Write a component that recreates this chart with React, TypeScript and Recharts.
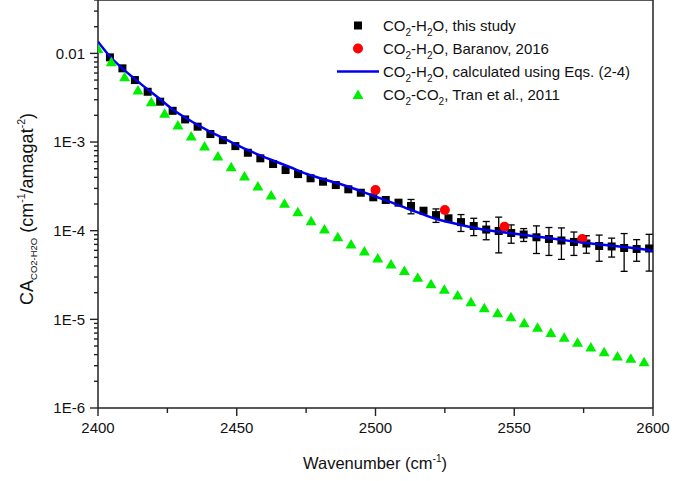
import React from 'react';
import {
  ComposedChart,
  Scatter,
  Line,
  XAxis,
  YAxis,
  ErrorBar,
  ReferenceLine,
  Legend,
  Label,
} from 'recharts';

const FONT = 'Arial, "Liberation Sans", Helvetica, sans-serif';
const AXIS = '#222';
const TEXT = '#111';

// CO2-H2O, this study
const studyWavenumber = [
  2404.3, 2408.8, 2413.3, 2417.9, 2422.4, 2426.9, 2431.4, 2435.9, 2440.5, 2445.0,
  2449.5, 2454.0, 2458.5, 2463.1, 2467.6, 2472.1, 2476.6, 2481.1, 2485.7, 2490.2,
  2494.7, 2499.2, 2503.7, 2508.3, 2512.8, 2517.3, 2521.8, 2526.3, 2530.8, 2535.4,
  2539.9, 2544.4, 2548.9, 2553.4, 2558.0, 2562.5, 2567.0, 2571.5, 2576.0, 2580.6,
  2585.1, 2589.6, 2594.1, 2598.6,
];
const studyCA = [
  0.00902, 0.00678, 0.0050, 0.00369, 0.00285, 0.00225, 0.0018, 0.00149, 0.00123, 0.00105,
  0.00090, 0.000757, 0.000655, 0.000565, 0.000483, 0.000435, 0.00039, 0.000357, 0.000327, 0.000293,
  0.000268, 0.000238, 0.000222, 0.000207, 0.000190, 0.000168, 0.000150, 0.000138, 0.000125, 0.000113,
  0.000103, 0.0000992, 0.0000942, 0.0000906, 0.0000843, 0.0000806, 0.0000775, 0.0000746, 0.0000717, 0.0000672,
  0.0000664, 0.0000638, 0.0000622, 0.0000630,
];
const studyError = [
  0, 0, 0, 0, 0, 0, 0, 0, 0, 0,
  0, 0, 0, 0, 0, 0, 0, 0, 0, 0,
  0, 0, 0, 0, 0.000035, 0.000012, 0.000026, 0.000010, 0.000027, 0.000025,
  0.000024, 0.000043, 0.000022, 0.000015, 0.000029, 0.000028, 0.000030, 0.000022, 0.000016, 0.000022,
  0.000016, 0.000029, 0.000017, 0.000028,
];

// CO2-H2O, Baranov, 2016
const baranovWavenumber = [2500, 2525, 2546.5, 2574.5];
const baranovCA = [0.000288, 0.000171, 0.000111, 0.0000805];

// CO2-H2O, calculated using Eqs. (2-4)
const calcWavenumber = [
  2400, 2404.4, 2409.2, 2415.2, 2421.3, 2427.2, 2433.3, 2439.3, 2445.3, 2451.3,
  2457.3, 2463.3, 2469.3, 2475.3, 2481.3, 2487.3, 2499.2, 2505.0, 2512.9, 2521.9,
  2530.9, 2539.9, 2548.9, 2557.9, 2566.9, 2575.9, 2584.9, 2593.9, 2600,
];
const calcCA = [
  0.01352, 0.00916, 0.0066, 0.00459, 0.003243, 0.002296, 0.001738, 0.001366, 0.001101, 0.000885,
  0.000732, 0.000615, 0.000519, 0.000436, 0.00038, 0.000336, 0.000248, 0.000213, 0.000171, 0.0001355,
  0.000116, 0.0001018, 0.0000935, 0.000086, 0.0000789, 0.0000726, 0.0000678, 0.0000633, 0.000059,
];

// CO2-CO2, Tran et al., 2011
const tranWavenumber = [
  2400, 2404.8, 2409.6, 2414.4, 2419.2, 2424.0, 2428.8, 2433.6, 2438.4, 2443.2,
  2448.0, 2452.8, 2457.6, 2462.4, 2467.2, 2472.0, 2476.8, 2481.6, 2486.4, 2491.2,
  2496.0, 2500.8, 2505.6, 2510.4, 2515.2, 2520.0, 2524.8, 2529.6, 2534.4, 2539.2,
  2544.0, 2548.8, 2553.6, 2558.4, 2563.2, 2568.0, 2572.8, 2577.6, 2582.4, 2587.2,
  2592.0, 2596.8,
];
const tranCA = [
  0.01138, 0.00804, 0.005446, 0.003857, 0.002846, 0.002107, 0.001555, 0.001168, 0.000901, 0.000696,
  0.000527, 0.000414, 0.000319, 0.0002527, 0.0002037, 0.0001638, 0.0001296, 0.0001045, 0.0000856, 0.0000708,
  0.000059, 0.0000492, 0.0000421, 0.0000355, 0.0000299, 0.0000252, 0.0000219, 0.0000188, 0.0000158, 0.00001355,
  0.0000119, 0.00001072, 0.00000918, 0.00000815, 0.0000071, 0.00000628, 0.00000553, 0.00000488, 0.00000432, 0.00000387,
  0.00000364, 0.00000333,
];

// axes
const xTicks = [2400, 2425, 2450, 2475, 2500, 2525, 2550, 2575, 2600];
const xTickLabels = ['2400', '', '2450', '', '2500', '', '2550', '', '2600'];
const yMajorTicks = [1e-6, 1e-5, 1e-4, 1e-3, 1e-2];
const yMajorLabels = ['1E-6', '1E-5', '1E-4', '1E-3', '0.01'];
const yMinorMultipliers = [2, 3, 4, 5, 6, 7, 8, 9];
const yDomain = [1e-6, 0.04];

const studyData = studyWavenumber.map((x, i) => ({ x, y: studyCA[i], e: studyError[i] }));
const baranovData = baranovWavenumber.map((x, i) => ({ x, y: baranovCA[i] }));
const calcData = calcWavenumber.map((x, i) => ({ x, y: calcCA[i] }));
const tranData = tranWavenumber.map((x, i) => ({ x, y: tranCA[i] }));

const yTicks: number[] = [];
yMajorTicks.forEach((d) => {
  yTicks.push(d);
  yMinorMultipliers.forEach((m) => {
    const v = d * m;
    if (v <= yDomain[1] * 1.001) yTicks.push(v);
  });
});
yTicks.sort((a, b) => a - b);

const majorIndex = (v: number) =>
  yMajorTicks.findIndex((t) => Math.abs(Math.log10(t) - Math.log10(v)) < 1e-6);

const YTick = (props: any) => {
  const { x, y, payload } = props;
  const idx = majorIndex(payload.value);
  const major = idx >= 0;
  return (
    <g>
      <line x1={x - (major ? 8 : 4)} x2={x} y1={y} y2={y} stroke={AXIS} strokeWidth={1.4} />
      {major && (
        <text x={x - 13} y={y} dy="0.36em" textAnchor="end" fontSize={15} fontFamily={FONT} fill={TEXT}>
          {yMajorLabels[idx]}
        </text>
      )}
    </g>
  );
};

const XTick = (props: any) => {
  const { x, y, payload } = props;
  const idx = xTicks.indexOf(payload.value);
  const label = idx >= 0 ? xTickLabels[idx] : '';
  const major = label !== '';
  return (
    <g>
      <line x1={x} x2={x} y1={y} y2={y + (major ? 8 : 5)} stroke={AXIS} strokeWidth={1.4} />
      {major && (
        <text x={x} y={y + 25} textAnchor="middle" fontSize={15} fontFamily={FONT} fill={TEXT}>
          {label}
        </text>
      )}
    </g>
  );
};

const SquareShape = (p: any) => (
  <rect x={p.cx - 4} y={p.cy - 4} width={8} height={8} fill="#000" />
);
const CircleShape = (p: any) => <circle cx={p.cx} cy={p.cy} r={5} fill="#ff0000" />;
const TriangleShape = (p: any) => (
  <polygon
    points={`${p.cx},${p.cy - 5} ${p.cx - 5.5},${p.cy + 4.5} ${p.cx + 5.5},${p.cy + 4.5}`}
    fill="#00ee00"
  />
);

const XTitle = () => (
  <text x={375} y={469} textAnchor="middle" fontSize={16.5} fontFamily={FONT} fill={TEXT}>
    Wavenumber (cm
    <tspan fontSize={10} dy={-7}>-1</tspan>
    <tspan dy={7}>)</tspan>
  </text>
);

const YTitle = () => (
  <text
    transform="translate(33,209) rotate(-90)"
    x={0}
    y={0}
    textAnchor="middle"
    fontSize={18}
    fontFamily={FONT}
    fill={TEXT}
  >
    CA
    <tspan fontSize={9.5} dy={4}>CO2-H2O</tspan>
    <tspan dy={-4}> (cm</tspan>
    <tspan fontSize={10.5} dy={-8}>-1</tspan>
    <tspan dy={8}>/amagat</tspan>
    <tspan fontSize={10.5} dy={-8}>-2</tspan>
    <tspan dy={8}>)</tspan>
  </text>
);

const Sub = ({ children }: { children: React.ReactNode }) => (
  <span style={{ fontSize: 10, position: 'relative', top: 5 }}>{children}</span>
);

const legendRows = [
  { key: 'study', tail: ', this study', pair: 'H2O' },
  { key: 'baranov', tail: ', Baranov, 2016', pair: 'H2O' },
  { key: 'calc', tail: ', calculated using Eqs. (2-4)', pair: 'H2O' },
  { key: 'tran', tail: ', Tran et al., 2011', pair: 'CO2' },
];

const LegendIcon = ({ kind }: { kind: string }) => (
  <svg width={46} height={23} style={{ position: 'absolute', left: 0, top: 0 }}>
    {kind === 'study' && <rect x={18} y={7.5} width={8} height={8} fill="#000" />}
    {kind === 'baranov' && <circle cx={22} cy={11.5} r={5} fill="#ff0000" />}
    {kind === 'calc' && <line x1={1} x2={43} y1={11.5} y2={11.5} stroke="#0000f0" strokeWidth={2.5} />}
    {kind === 'tran' && <polygon points="22,6.5 16.5,16 27.5,16" fill="#00ee00" />}
  </svg>
);

const LegendBox = () => (
  <div style={{ position: 'relative', width: 320, height: 95, fontFamily: FONT, fontSize: 15, color: TEXT }}>
    {legendRows.map((r, i) => (
      <div
        key={r.key}
        style={{ position: 'absolute', left: 0, top: i * 23, height: 23, width: 320, whiteSpace: 'nowrap' }}
      >
        <LegendIcon kind={r.key} />
        <span style={{ position: 'absolute', left: 47, top: 0, lineHeight: '23px' }}>
          CO<Sub>2</Sub>-
          {r.pair === 'H2O' ? (
            <>
              H<Sub>2</Sub>O
            </>
          ) : (
            <>
              CO<Sub>2</Sub>
            </>
          )}
          {r.tail}
        </span>
      </div>
    ))}
  </div>
);

export default function App() {
  return (
    <div style={{ position: 'absolute', left: 0, top: 0, width: 694, height: 481, background: '#fff' }}>
      <ComposedChart width={694} height={481} margin={{ top: 0, right: 41, bottom: 0, left: 0 }}>
        <XAxis
          dataKey="x"
          type="number"
          domain={[2400, 2600]}
          allowDataOverflow
          ticks={xTicks}
          interval={0}
          height={73}
          tickSize={0}
          tickMargin={0}
          tickLine={false}
          tick={<XTick />}
          axisLine={{ stroke: AXIS, strokeWidth: 1.5 }}
        >
          <Label content={<XTitle />} />
        </XAxis>
        <YAxis
          type="number"
          scale="log"
          domain={yDomain}
          allowDataOverflow
          ticks={yTicks}
          interval={0}
          width={98}
          tickSize={0}
          tickMargin={0}
          tickLine={false}
          tick={<YTick />}
          axisLine={{ stroke: AXIS, strokeWidth: 1.5 }}
        >
          <Label content={<YTitle />} />
        </YAxis>
        <ReferenceLine y={yDomain[1]} stroke={AXIS} strokeWidth={1.5} />
        <ReferenceLine x={2600} stroke={AXIS} strokeWidth={1.5} />
        <Scatter
          name="this study"
          data={studyData}
          dataKey="y"
          shape={<SquareShape />}
          isAnimationActive={false}
        >
          <ErrorBar dataKey="e" direction="y" width={3.5} stroke="#000" strokeWidth={1.3} />
        </Scatter>
        <Scatter
          name="Baranov"
          data={baranovData}
          dataKey="y"
          shape={<CircleShape />}
          isAnimationActive={false}
        />
        <Line
          name="calculated"
          data={calcData}
          dataKey="y"
          type="monotone"
          stroke="#0000f0"
          strokeWidth={2.5}
          dot={false}
          activeDot={false}
          isAnimationActive={false}
          {...({ zIndex: 650 } as any)}
        />
        <Scatter
          name="Tran"
          data={tranData}
          dataKey="y"
          shape={<TriangleShape />}
          isAnimationActive={false}
          {...({ zIndex: 700 } as any)}
        />
        <Legend
          layout="vertical"
          align="center"
          verticalAlign="middle"
          wrapperStyle={{ position: 'absolute', left: 336, top: 13.5, width: 320, height: 95 }}
          content={<LegendBox />}
        />
      </ComposedChart>
    </div>
  );
}
